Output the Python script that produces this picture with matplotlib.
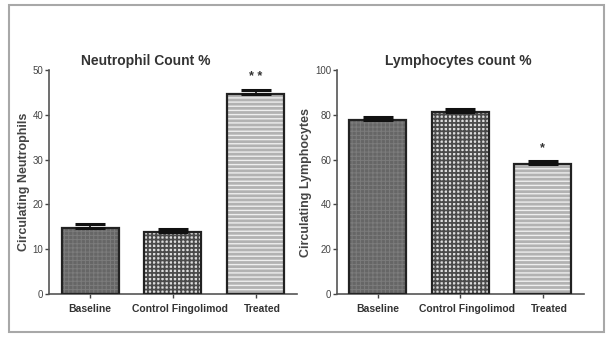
import matplotlib
matplotlib.use('Agg')
import matplotlib.pyplot as plt
import matplotlib.patches as mpatches
import matplotlib.transforms as mtransforms
import numpy as np

plt.rcParams['font.family'] = ['Liberation Sans', 'DejaVu Sans']

# data
groups = ['Baseline', 'Control Fingolimod', 'Treated']
neut_mean = [14.8, 13.8, 44.8]
neut_sem = [0.8, 0.7, 0.8]
neut_sig = ['', '', '* *']
lymph_mean = [77.6, 81.6, 58.3]
lymph_sem = [1.5, 1.2, 1.1]
lymph_sig = ['', '', '*']

# fill, hatch, hatch colour, hatch width for each group
fills = ['#666666', '#dcdcdc', '#b2b2b2']
hatches = ['++++', '++++', '----']
hatch_cols = ['#7c7c7c', '#4a4a4a', '#eeeeee']
hatch_lw = [0.7, 1.3, 1.0]


def draw_panel(ax, means, sems, sigs, title, title_x, ylabel, ymax, step):
    x = np.arange(len(groups))
    w = 0.69
    for i in range(len(groups)):
        with plt.rc_context({'hatch.linewidth': hatch_lw[i]}):
            ax.bar(x[i], means[i], w, color=fills[i], hatch=hatches[i],
                   edgecolor=hatch_cols[i], linewidth=0, zorder=2)
        ax.bar(x[i], means[i], w, fill=False, edgecolor='#222222',
               linewidth=1.6, zorder=3)
    ax.errorbar(x, means, yerr=[np.zeros(len(means)), sems], fmt='none',
                ecolor='#111111', elinewidth=1.2, capsize=11, capthick=2.2,
                zorder=4)
    for i, s in enumerate(sigs):
        if s:
            ax.text(x[i], means[i] + sems[i] + ymax * 0.06, s, ha='center',
                    va='center', fontsize=9, fontweight='bold',
                    color='#333333')
    ax.set_xlim(-0.5, 2.5)
    ax.set_ylim(0, ymax)
    ax.set_yticks(np.arange(0, ymax + 1, step))
    ax.set_xticks(x)
    ax.set_xticklabels(groups, fontsize=7.5, fontweight='bold')
    ax.tick_params(axis='y', labelsize=7, colors='#444444', length=3,
                   width=1, pad=1)
    ax.tick_params(axis='x', length=3, width=1, colors='#444444', pad=4)
    shift = mtransforms.ScaledTranslation(7 / 100, 0, ax.figure.dpi_scale_trans)
    for k, lab in enumerate(ax.get_xticklabels()):
        lab.set_color('#333333')
        if k > 0:
            lab.set_transform(lab.get_transform() + shift)
    for sp in ['top', 'right']:
        ax.spines[sp].set_visible(False)
    for sp in ['left', 'bottom']:
        ax.spines[sp].set_color('#555555')
        ax.spines[sp].set_linewidth(1.2)
    ax.set_title(title, fontsize=10, fontweight='bold', color='#333333',
                 pad=4, x=title_x)
    ax.set_ylabel(ylabel, fontsize=9, fontweight='bold', color='#444444',
                  labelpad=2)


fig = plt.figure(figsize=(6.11, 3.37), dpi=100)
fig.patches.append(mpatches.Rectangle((9 / 611, 5 / 337), 595 / 611,
                                      327 / 337, transform=fig.transFigure,
                                      fill=False, edgecolor='#a8a8a8',
                                      linewidth=1.5))

ax1 = fig.add_axes([0.080, 0.128, 0.406, 0.663])
ax2 = fig.add_axes([0.551, 0.128, 0.405, 0.663])

draw_panel(ax1, neut_mean, neut_sem, neut_sig, 'Neutrophil Count %', 0.39,
           'Circulating Neutrophils', 50, 10)
draw_panel(ax2, lymph_mean, lymph_sem, lymph_sig, 'Lymphocytes count %', 0.49,
           'Circulating Lymphocytes', 100, 20)

fig.savefig('out.png', dpi=100)
